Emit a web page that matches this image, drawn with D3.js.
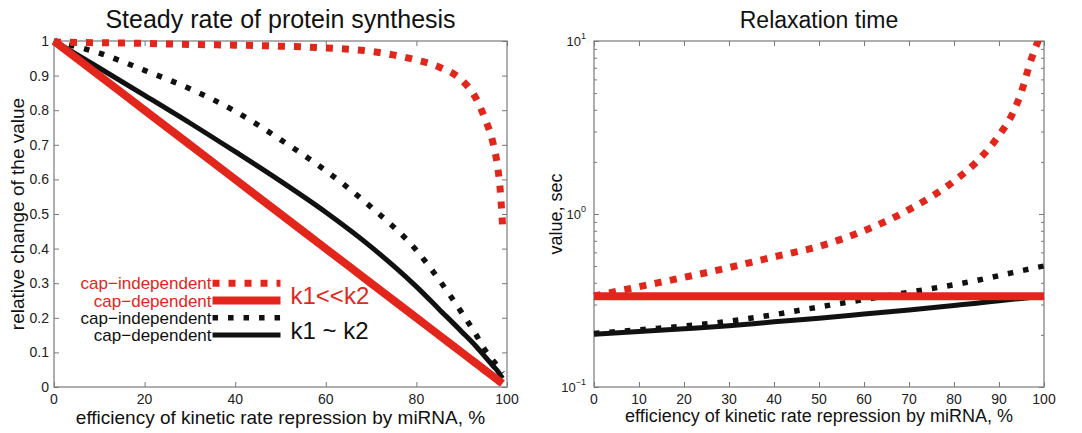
<!DOCTYPE html>
<html>
<head>
<meta charset="utf-8">
<script src="https://cdn.jsdelivr.net/npm/d3@7"></script>
<style>
  body { margin: 0; background: #fff; }
  svg text { font-family: "Liberation Sans", Arial, sans-serif; }
</style>
</head>
<body>
<div id="chart"></div>
<script>
// ---------- data ----------
// left panel: steady rate of protein synthesis (relative)
var effL = [0, 10, 20, 30, 40, 50, 60, 70, 80, 85, 90, 93, 95, 97, 98, 98.5, 99];
var capDepFast   = [1, 0.9, 0.8, 0.7, 0.6, 0.5, 0.4, 0.3, 0.2, 0.15, 0.1, 0.07, 0.05, 0.03, 0.02, 0.015, 0.01];
var capIndepFast = [0.997, 0.995, 0.993, 0.99, 0.988, 0.985, 0.98, 0.97, 0.945, 0.925, 0.887, 0.838, 0.78, 0.70, 0.63, 0.57, 0.47];
var capDepEq     = [1, 0.922, 0.843, 0.763, 0.68, 0.595, 0.505, 0.405, 0.29, 0.225, 0.16, 0.12, 0.09, 0.06, 0.045, 0.035, 0.025];
var capIndepEq   = [1, 0.965, 0.915, 0.862, 0.797, 0.715, 0.625, 0.52, 0.395, 0.31, 0.215, 0.155, 0.11, 0.075, 0.06, 0.05, 0.04];

// right panel: relaxation time, sec
var effR = [0, 10, 20, 30, 40, 50, 60, 70, 80, 85, 90, 93, 95, 97, 99, 100];
var tauCapDepFast   = [0.335, 0.335, 0.335, 0.335, 0.335, 0.335, 0.335, 0.335, 0.335, 0.335, 0.335, 0.335, 0.335, 0.335, 0.335, 0.335];
var tauCapIndepFast = [0.335, 0.38, 0.43, 0.49, 0.565, 0.65, 0.8, 1.06, 1.55, 2.0, 2.85, 3.8, 5.1, 7.6, 10.5, null];
var tauCapDepEq     = [0.202, 0.209, 0.217, 0.226, 0.238, 0.25, 0.264, 0.279, 0.296, 0.305, 0.315, 0.321, 0.325, 0.329, 0.333, 0.335];
var tauCapIndepEq   = [0.204, 0.214, 0.225, 0.24, 0.262, 0.29, 0.32, 0.353, 0.39, 0.413, 0.44, 0.458, 0.47, 0.482, 0.495, 0.50];

// ticks
var xTicksL = [0, 20, 40, 60, 80, 100];
var yTicksL = [0, 0.1, 0.2, 0.3, 0.4, 0.5, 0.6, 0.7, 0.8, 0.9, 1];
var xTicksR = [0, 10, 20, 30, 40, 50, 60, 70, 80, 90, 100];
var yMajorR = [0.1, 1, 10];
var yExpR   = ['\u22121', '0', '1'];

// legend (drawn inside the left axes, in data units)
var legendNames  = ['cap\u2212independent', 'cap\u2212dependent', 'cap\u2212independent', 'cap\u2212dependent'];
var legendLevels = [0.30, 0.25, 0.20, 0.15];
var legendX      = [35, 50];
var groupNames   = ['k1<<k2', 'k1 ~ k2'];
var groupLevels  = [0.262, 0.162];

var W = 1082, H = 433;
var red = '#e2261c', black = '#111111', frame = '#7a7a7a', tickText = '#222';

var svg = d3.select('#chart').append('svg')
  .attr('width', W).attr('height', H);

var styles = [
  { color: red,   width: 7, dash: '7,9' },   // cap-independent, k1<<k2
  { color: red,   width: 8, dash: null },    // cap-dependent, k1<<k2
  { color: black, width: 5.5, dash: '5.5,10' },  // cap-independent, k1~k2
  { color: black, width: 5, dash: null }     // cap-dependent, k1~k2
];

function drawFrame(g, x0, x1, y0, y1) {
  g.append('rect')
    .attr('x', x0).attr('y', y0)
    .attr('width', x1 - x0).attr('height', y1 - y0)
    .attr('fill', 'none')
    .attr('stroke', frame)
    .attr('stroke-width', 1.2);
}

function drawSeries(g, x, y, xs, ys, st, clipId) {
  var line = d3.line()
    .defined(function(d) { return d[1] !== null; })
    .curve(d3.curveMonotoneX)
    .x(function(d) { return x(d[0]); })
    .y(function(d) { return y(d[1]); });
  g.append('path')
    .datum(xs.map(function(v, i) { return [v, ys[i]]; }))
    .attr('d', line)
    .attr('fill', 'none')
    .attr('stroke', st.color)
    .attr('stroke-width', st.width)
    .attr('stroke-dasharray', st.dash)
    .attr('clip-path', clipId ? 'url(#' + clipId + ')' : null);
}

/* ---------- left panel ---------- */
var xL = d3.scaleLinear().domain([0, 100]).range([54, 507]);
var yL = d3.scaleLinear().domain([0, 1]).range([387, 41]);
var gL = svg.append('g');

drawFrame(gL, xL(0), xL(100), yL(1), yL(0));

// inward ticks on all four sides
gL.append('g').attr('transform', 'translate(0,' + yL(0) + ')')
  .call(d3.axisTop(xL).tickValues(xTicksL).tickSize(5).tickFormat(''));
gL.append('g').attr('transform', 'translate(0,' + yL(1) + ')')
  .call(d3.axisBottom(xL).tickValues(xTicksL).tickSize(5).tickFormat(''));
gL.append('g').attr('transform', 'translate(' + xL(0) + ',0)')
  .call(d3.axisRight(yL).tickValues(yTicksL).tickSize(5).tickFormat(''));
gL.append('g').attr('transform', 'translate(' + xL(100) + ',0)')
  .call(d3.axisLeft(yL).tickValues(yTicksL).tickSize(5).tickFormat(''));
gL.selectAll('.domain').remove();
gL.selectAll('.tick line').attr('stroke', frame);

gL.selectAll('text.xt').data(xTicksL).enter().append('text')
  .attr('class', 'xt')
  .attr('x', function(d) { return xL(d); })
  .attr('y', yL(0) + 17)
  .attr('text-anchor', 'middle')
  .attr('font-size', 14).attr('fill', tickText)
  .text(function(d) { return d; });
gL.selectAll('text.yt').data(yTicksL).enter().append('text')
  .attr('class', 'yt')
  .attr('x', xL(0) - 5)
  .attr('y', function(d) { return yL(d) + 5; })
  .attr('text-anchor', 'end')
  .attr('font-size', 14).attr('fill', tickText)
  .text(function(d) { return d; });

var seriesL = [capIndepFast, capDepFast, capIndepEq, capDepEq];
[3, 2, 1, 0].forEach(function(i) {
  drawSeries(gL, xL, yL, effL, seriesL[i], styles[i]);
});

// legend
legendLevels.forEach(function(lv, i) {
  drawSeries(gL, xL, yL, legendX, [lv, lv], styles[i]);
  gL.append('text')
    .attr('x', xL(legendX[0]) - 1)
    .attr('y', yL(lv) + 6)
    .attr('text-anchor', 'end')
    .attr('font-size', 17)
    .attr('fill', styles[i].color)
    .text(legendNames[i]);
});
groupNames.forEach(function(name, i) {
  gL.append('text')
    .attr('x', xL(legendX[1]) + 10)
    .attr('y', yL(groupLevels[i]) + 8)
    .attr('font-size', 24)
    .attr('fill', i === 0 ? red : black)
    .text(name);
});

gL.append('text')
  .attr('x', (xL(0) + xL(100)) / 2).attr('y', 28)
  .attr('text-anchor', 'middle').attr('font-size', 25).attr('fill', '#111')
  .text('Steady rate of protein synthesis');
gL.append('text')
  .attr('x', (xL(0) + xL(100)) / 2).attr('y', 424)
  .attr('text-anchor', 'middle').attr('font-size', 19).attr('fill', '#111')
  .text('efficiency of kinetic rate repression by miRNA, %');
gL.append('text')
  .attr('transform', 'translate(24,' + (yL(0) + yL(1)) / 2 + ') rotate(-90)')
  .attr('text-anchor', 'middle').attr('font-size', 19).attr('fill', '#111')
  .text('relative change of the value');

/* ---------- right panel ---------- */
var xR = d3.scaleLinear().domain([0, 100]).range([594, 1044]);
var yR = d3.scaleLog().domain([0.1, 10]).range([387, 41]);
var gR = svg.append('g');

svg.append('defs').append('clipPath').attr('id', 'clipR')
  .append('rect')
  .attr('x', xR(0) - 10).attr('y', yR(10))
  .attr('width', xR(100) - xR(0) + 20).attr('height', yR(0.1) - yR(10));

drawFrame(gR, xR(0), xR(100), yR(10), yR(0.1));

var minorR = yR.ticks().filter(function(v) { return yMajorR.indexOf(v) < 0; });

gR.append('g').attr('transform', 'translate(0,' + yR(0.1) + ')')
  .call(d3.axisTop(xR).tickValues(xTicksR).tickSize(5).tickFormat(''));
gR.append('g').attr('transform', 'translate(0,' + yR(10) + ')')
  .call(d3.axisBottom(xR).tickValues(xTicksR).tickSize(5).tickFormat(''));
gR.append('g').attr('transform', 'translate(' + xR(0) + ',0)')
  .call(d3.axisRight(yR).tickValues(yMajorR).tickSize(5).tickFormat(''));
gR.append('g').attr('transform', 'translate(' + xR(100) + ',0)')
  .call(d3.axisLeft(yR).tickValues(yMajorR).tickSize(5).tickFormat(''));
gR.append('g').attr('transform', 'translate(' + xR(0) + ',0)')
  .call(d3.axisRight(yR).tickValues(minorR).tickSize(3).tickFormat(''));
gR.append('g').attr('transform', 'translate(' + xR(100) + ',0)')
  .call(d3.axisLeft(yR).tickValues(minorR).tickSize(3).tickFormat(''));
gR.selectAll('.domain').remove();
gR.selectAll('.tick line').attr('stroke', frame);

gR.selectAll('text.xt').data(xTicksR).enter().append('text')
  .attr('class', 'xt')
  .attr('x', function(d) { return xR(d); })
  .attr('y', yR(0.1) + 17)
  .attr('text-anchor', 'middle')
  .attr('font-size', 14).attr('fill', tickText)
  .text(function(d) { return d; });

var yLab = gR.selectAll('text.yt').data(yMajorR).enter().append('text')
  .attr('class', 'yt')
  .attr('x', xR(0) - 8)
  .attr('y', function(d) { return yR(d) + 5; })
  .attr('text-anchor', 'end')
  .attr('font-size', 13).attr('fill', tickText);
yLab.append('tspan').text('10');
yLab.append('tspan')
  .attr('dy', -7).attr('font-size', 9)
  .text(function(d, i) { return yExpR[i]; });

var seriesR = [tauCapIndepFast, tauCapDepFast, tauCapIndepEq, tauCapDepEq];
[3, 2, 0, 1].forEach(function(i) {
  var st = Object.assign({}, styles[i]);
  if (i === 0) st.dash = '7,8.5';
  drawSeries(gR, xR, yR, effR, seriesR[i], st, 'clipR');
});

gR.append('text')
  .attr('x', (xR(0) + xR(100)) / 2).attr('y', 28)
  .attr('text-anchor', 'middle').attr('font-size', 23).attr('fill', '#111')
  .text('Relaxation time');
gR.append('text')
  .attr('x', (xR(0) + xR(100)) / 2).attr('y', 422)
  .attr('text-anchor', 'middle').attr('font-size', 18).attr('fill', '#111')
  .text('efficiency of kinetic rate repression by miRNA, %');
gR.append('text')
  .attr('transform', 'translate(562,' + (yR(0.1) + yR(10)) / 2 + ') rotate(-90)')
  .attr('text-anchor', 'middle').attr('font-size', 18).attr('fill', '#111')
  .text('value, sec');
</script>
</body>
</html>
